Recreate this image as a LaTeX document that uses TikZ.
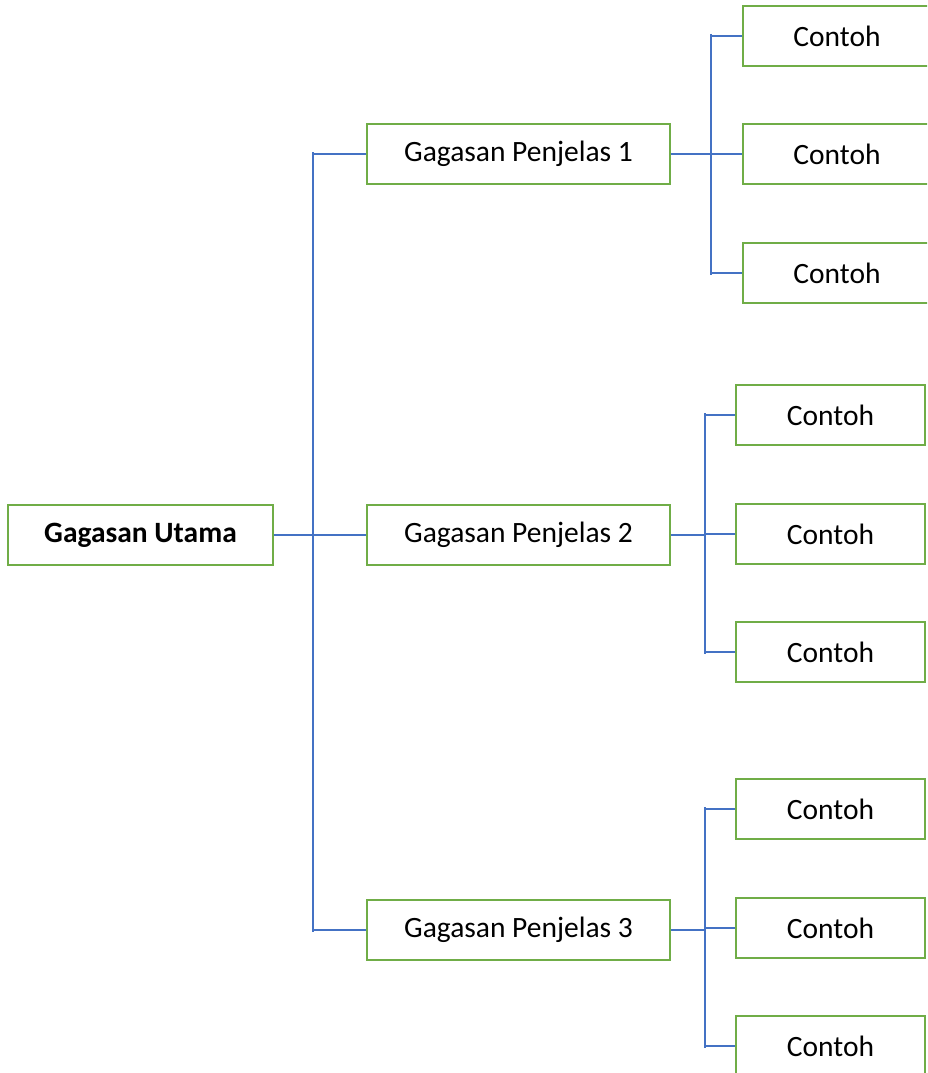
\documentclass[tikz,border=0pt]{standalone}
\usepackage{fontspec}
\setmainfont{Carlito}
\definecolor{boxgreen}{HTML}{70AD47}
\definecolor{lineblue}{HTML}{4472C4}
\begin{document}
\begin{tikzpicture}[x=1pt,y=-1pt,
  box/.style={draw=boxgreen,line width=2.8pt,fill=white,rectangle,inner sep=0pt,
    minimum width=#1,minimum height=60pt,font=\fontsize{29.5}{35}\selectfont},
  box/.default=303pt,
  link/.style={draw=lineblue,line width=1.6pt}]
\useasboundingbox (0,0) rectangle (927,1073);
\clip (0,0) rectangle (927,1073);
% main and level-1 nodes
\node[box=265pt,font=\fontsize{29.5}{35}\selectfont\bfseries] (gu) at (140.5,535) {Gagasan Utama};
\node[box] (p1) at (518.5,154) {Gagasan Penjelas 1};
\node[box] (p2) at (518.5,535) {Gagasan Penjelas 2};
\node[box] (p3) at (518.5,930) {Gagasan Penjelas 3};
% examples
\node[box=188pt] (c11) at (837,36) {Contoh};
\node[box=188pt] (c12) at (837,154) {Contoh};
\node[box=188pt] (c13) at (837,273) {Contoh};
\node[box=189pt] (c21) at (830.5,415) {Contoh};
\node[box=189pt] (c22) at (830.5,534) {Contoh};
\node[box=189pt] (c23) at (830.5,652) {Contoh};
\node[box=189pt] (c31) at (830.5,809) {Contoh};
\node[box=189pt] (c32) at (830.5,928) {Contoh};
\node[box=189pt] (c33) at (830.5,1046) {Contoh};
% trunk coordinates
\coordinate (t0) at (313,535);
\coordinate (t1) at (711,154);
\coordinate (t2) at (705,535);
\coordinate (t3) at (705,930);
% connectors
\draw[link] (gu.east) -- (t0);
\draw[link] (313,152) -- (313,932);
\draw[link] (313,0 |- p1.west) -- (p1.west);
\draw[link] (313,0 |- p2.west) -- (p2.west);
\draw[link] (313,0 |- p3.west) -- (p3.west);
\draw[link] (p1.east) -- (t1);
\draw[link] (711,34) -- (711,275);
\foreach \c in {c11,c12,c13}{\draw[link] (711,0 |- \c.west) -- (\c.west);}
\draw[link] (p2.east) -- (t2);
\draw[link] (705,413) -- (705,654);
\foreach \c in {c21,c22,c23}{\draw[link] (705,0 |- \c.west) -- (\c.west);}
\draw[link] (p3.east) -- (t3);
\draw[link] (705,807) -- (705,1048);
\foreach \c in {c31,c32,c33}{\draw[link] (705,0 |- \c.west) -- (\c.west);}
\end{tikzpicture}
\end{document}
